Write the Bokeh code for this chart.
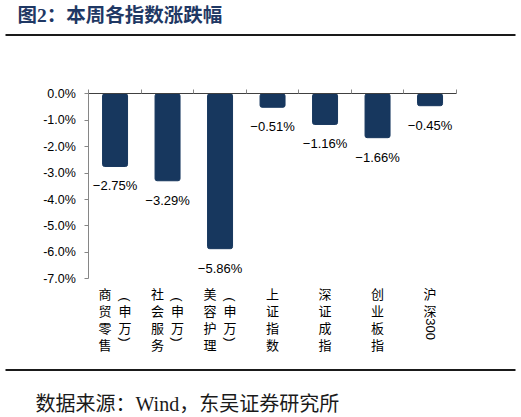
import math

from bokeh.plotting import figure
from bokeh.models import (ColumnDataSource, LinearAxis, FixedTicker, Range1d,
                          Label, PrintfTickFormatter)
from bokeh.core.properties import value
from bokeh.embed import file_html
from bokeh.resources import INLINE

# ---------------- data ----------------
categories = ["商贸零售(申万)", "社会服务(申万)", "美容护理(申万)",
              "上证指数", "深证成指", "创业板指", "沪深300"]
# how each category label wraps into vertical columns
label_columns = [["商贸零售", "(申万)"], ["社会服务", "(申万)"], ["美容护理", "(申万)"],
                 ["上证指数"], ["深证成指"], ["创业板指"], ["沪深300"]]
changes = [-2.75, -3.29, -5.86, -0.51, -1.16, -1.66, -0.45]
y_ticks = [0, -1, -2, -3, -4, -5, -6, -7]

title_text = "图2：本周各指数涨跌幅"
source_text = "数据来源：Wind，东吴证券研究所"

# ---------------- geometry ----------------
W, H = 521, 417
PX_PER_CAT = 52.5     # width of one category slot
PX_PER_PCT = 26.43    # height of 1 %
AXIS_LEFT_PX = 88.3   # where the value axis sits
ZERO_PX = 93.3        # where 0 % sits

x_start = -0.5 - AXIS_LEFT_PX / PX_PER_CAT
x_end = x_start + W / PX_PER_CAT
y_end = ZERO_PX / PX_PER_PCT
y_start = y_end - H / PX_PER_PCT


def px_x(px):
    return x_start + px / PX_PER_CAT


def px_y(py):
    return y_end - py / PX_PER_PCT


BAR_COLOR = "#17375E"
NAVY = "#1F3864"
SERIF_CJK = "Liberation Serif, Noto Sans CJK SC"

p = figure(width=W, height=H, title=None, toolbar_location=None,
           output_backend="svg", x_axis_type=None, y_axis_type=None,
           x_range=Range1d(x_start, x_end), y_range=Range1d(y_start, y_end),
           min_border=0)
p.outline_line_color = None
p.background_fill_color = "white"

idx = list(range(len(categories)))
bars = ColumnDataSource(dict(
    x=idx, v=changes,
    lab=[f"{v:.2f}%".replace("-", "\u2212") for v in changes]))

p.vbar(x="x", top=0, bottom="v", width=0.476, source=bars,
       fill_color=BAR_COLOR, line_color=BAR_COLOR, border_radius=2)

p.text(x="x", y="v", text="lab", source=bars, y_offset=19.5,
       text_align="center", text_baseline="middle",
       text_font=value("Liberation Sans"), text_font_size="13px",
       text_color="#000000")

# value axis
yax = LinearAxis(fixed_location=-0.5, bounds=(y_ticks[-1], y_ticks[0]),
                 ticker=FixedTicker(ticks=y_ticks),
                 formatter=PrintfTickFormatter(format="%.1f%%"))
yax.axis_line_color = "#868686"
yax.major_tick_line_color = "#868686"
yax.major_tick_in = 0
yax.major_tick_out = 4
yax.minor_tick_line_color = None
yax.major_label_standoff = 9
yax.major_label_text_font = "Liberation Sans"
yax.major_label_text_font_size = "12.5px"
yax.major_label_text_color = "#000000"
p.add_layout(yax, "left")

# category axis at 0 (ticks between categories, no labels)
bounds_ticks = [i - 0.5 for i in range(len(categories) + 1)]
xax = LinearAxis(fixed_location=0, bounds=(bounds_ticks[0], bounds_ticks[-1]),
                 ticker=FixedTicker(ticks=bounds_ticks),
                 major_label_overrides={t: "" for t in bounds_ticks})
xax.axis_line_color = "#404040"
xax.major_tick_line_color = "#868686"
xax.major_tick_in = 0
xax.major_tick_out = 4
xax.minor_tick_line_color = None
p.add_layout(xax, "above")

# vertical category labels (CJK upright, latin runs rotated)
CJK_ADV = 17.0
LAT_ADV = {"(": 6.0, ")": 6.0}
tx, ty, tt, tdx, tdy, tang, tfont = [], [], [], [], [], [], []
for i, cols in enumerate(label_columns):
    n = len(cols)
    first_len = None
    for k, col in enumerate(cols):
        toks = []
        run = ""
        for ch in col:
            if ord(ch) > 0x2E80:
                if run:
                    toks.append((run, False))
                    run = ""
                toks.append((ch, True))
            else:
                run += ch
        if run:
            toks.append((run, False))
        advs = [CJK_ADV if cjk else sum(LAT_ADV.get(c, 6.5) for c in t)
                for t, cjk in toks]
        length = sum(advs)
        if first_len is None:
            first_len = length
        pos = 6.5 + (first_len - length) / 2
        dx = (k - (n - 1) / 2) * 20
        for (t, cjk), a in zip(toks, advs):
            tx.append(i)
            ty.append(y_ticks[-1])
            tt.append(t)
            tdx.append(dx)
            tdy.append(pos + a / 2)
            tang.append(0 if cjk else -math.pi / 2)
            tfont.append("Noto Sans CJK SC" if cjk else "Liberation Sans")
            pos += a

cat_src = ColumnDataSource(dict(x=tx, y=ty, t=tt, dx=tdx, dy=tdy, ang=tang, font=tfont))
p.text(x="x", y="y", text="t", source=cat_src, x_offset="dx", y_offset="dy",
       angle="ang", text_font="font", text_font_size="13px",
       text_align="center", text_baseline="middle", text_color="#000000")

# title, rules and source note
p.add_layout(Label(x=px_x(17), y=px_y(14.5), text=title_text,
                   text_baseline="middle", text_font=SERIF_CJK,
                   text_font_style="bold", text_font_size="19.5px",
                   text_color=NAVY))
p.segment(x0=[px_x(5)] * 2, x1=[px_x(515)] * 2,
          y0=[px_y(34.5), px_y(369.5)], y1=[px_y(34.5), px_y(369.5)],
          line_color="#1a1a1a", line_width=2)
p.add_layout(Label(x=px_x(35), y=px_y(403), text=source_text,
                   text_baseline="middle", text_font=SERIF_CJK,
                   text_font_size="20px", text_color="#1a1a1a"))

open("out.html", "w").write(file_html(p, INLINE))
